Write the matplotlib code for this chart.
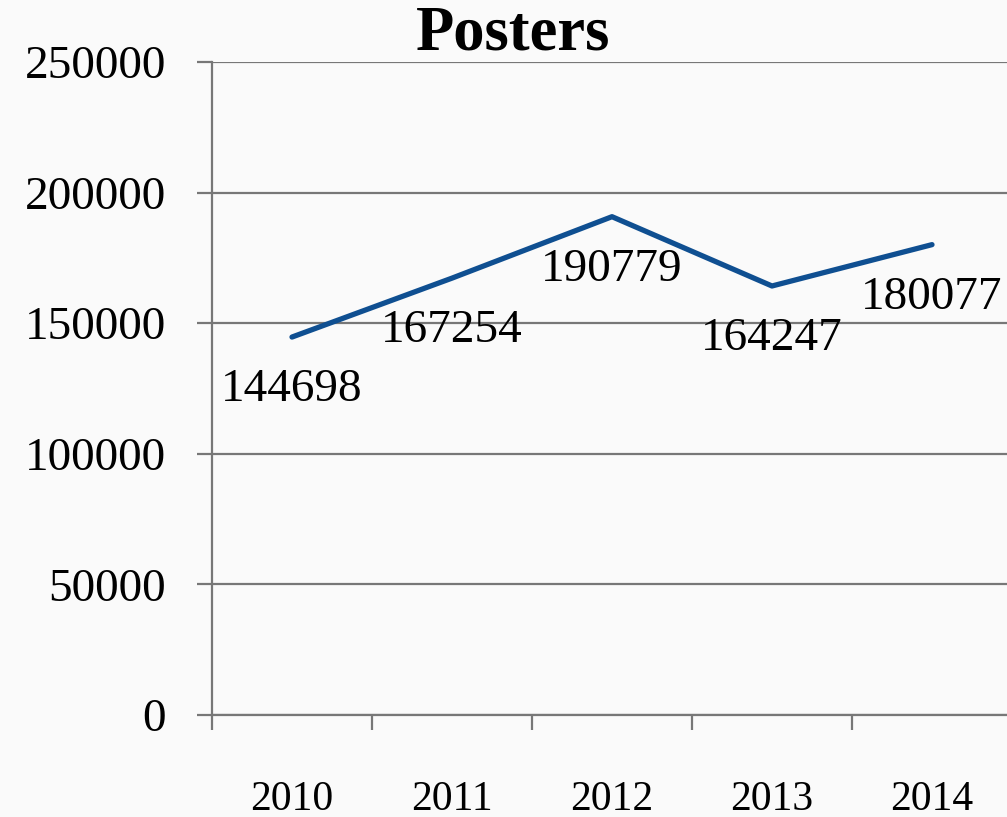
import matplotlib
matplotlib.use("Agg")
import matplotlib.pyplot as plt

years = ["2010", "2011", "2012", "2013", "2014"]
posters = [144698, 167254, 190779, 164247, 180077]
yticks = [0, 50000, 100000, 150000, 200000, 250000]

plt.rcParams['font.family'] = ['Liberation Serif', 'DejaVu Serif']

W, H = 1007, 817
fig = plt.figure(figsize=(W / 100, H / 100), dpi=100)
fig.patch.set_facecolor('#fafafa')

ax = fig.add_axes([212 / W, 1 - 715 / H, 800 / W, (715 - 62) / H])
ax.set_facecolor('#fafafa')

x = [i + 0.5 for i in range(len(years))]
ax.plot(x, posters, color='#0f4f91', linewidth=3.8, solid_capstyle='round', zorder=3)
for xi, v in zip(x, posters):
    ax.annotate(str(v), (xi, v), xytext=(0, -38), textcoords='offset points',
                ha='center', va='center', fontsize=34, color='black')

ax.set_xlim(0, len(years))
ax.set_ylim(0, 250000)
ax.set_yticks(yticks)
ax.set_yticklabels([str(t) for t in yticks], fontsize=34)
ax.set_xticks(range(len(years) + 1))
ax.set_xticklabels([])
ax.set_xticks(x, minor=True)
ax.set_xticklabels(years, minor=True, fontsize=30)

ax.grid(axis='y', color='#777777', linewidth=1.6)
ax.set_axisbelow(True)
for s in ['top', 'right']:
    ax.spines[s].set_visible(False)
for s in ['left', 'bottom']:
    ax.spines[s].set_color('#777777')
    ax.spines[s].set_linewidth(1.6)

ax.tick_params(axis='y', which='major', length=11, width=1.6, color='#777777', pad=22)
ax.tick_params(axis='x', which='major', length=11, width=1.6, color='#777777')
ax.tick_params(axis='x', which='minor', length=0, pad=47)

fig.text(513 / W, 1 - 35 / H, "Posters", ha='center', va='center',
         fontsize=45, fontweight='bold')

fig.savefig("out.png", dpi=100, facecolor=fig.get_facecolor())
